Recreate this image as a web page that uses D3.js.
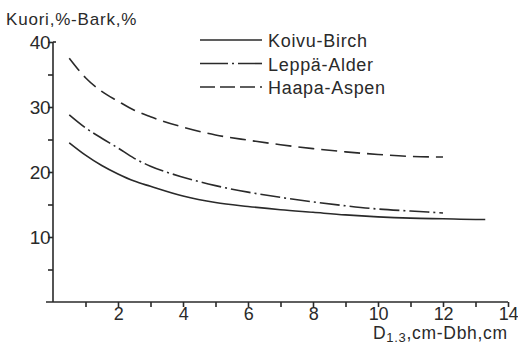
<!DOCTYPE html>
<head>
<meta charset="utf-8">
<script src="https://d3js.org/d3.v7.min.js"></script>
</head>
<style>
body { margin: 0; background: #fff; }
svg text { font-family: "Liberation Sans", Arial, sans-serif; fill: #2a2a2a; }
.axis path, .axis line { stroke: #2a2a2a; stroke-width: 1.6px; }
.curve { fill: none; stroke: #2a2a2a; stroke-width: 1.6px; }
</style>
<body>
<script>
// diameter (cm) and bark share (%)
var birchX = [0.5, 1, 1.5, 2, 2.5, 3, 4, 5, 6, 7, 8, 9, 10, 11, 12, 13, 13.3];
var birchY = [24.5, 22.6, 21.0, 19.7, 18.6, 17.8, 16.3, 15.3, 14.7, 14.2, 13.8, 13.4, 13.1, 12.9, 12.8, 12.7, 12.7];
var alderX = [0.5, 1, 1.5, 2, 2.5, 3, 4, 5, 6, 7, 8, 9, 10, 11, 12];
var alderY = [28.8, 26.8, 25.2, 23.7, 22.1, 20.9, 19.2, 17.9, 16.9, 16.1, 15.4, 14.8, 14.3, 14.0, 13.7];
var aspenX = [0.5, 1, 1.5, 2, 2.5, 3, 4, 5, 6, 7, 8, 9, 10, 11, 12];
var aspenY = [37.5, 34.5, 32.4, 30.9, 29.5, 28.5, 26.9, 25.7, 24.9, 24.2, 23.6, 23.1, 22.7, 22.4, 22.3];
var seriesNames = ["Koivu-Birch", "Leppä-Alder", "Haapa-Aspen"];
var xTicks = [1, 2, 3, 4, 5, 6, 7, 8, 9, 10, 11, 12, 13, 14];
var yTicks = [5, 10, 15, 20, 25, 30, 35, 40];

var W = 518, H = 345;
var margin = {top: 42, left: 53},
    width = 455, height = 260;

var x = d3.scaleLinear().domain([0, 14]).range([0, width]);
var y = d3.scaleLinear().domain([0, 40]).range([height, 0]);

var svg = d3.select("body").append("svg")
    .attr("width", W).attr("height", H);
var g = svg.append("g")
    .attr("transform", "translate(" + margin.left + "," + margin.top + ")");

// axes
var yAxis = g.append("g").attr("class", "axis")
    .call(d3.axisLeft(y).tickValues(yTicks).tickSize(5).tickSizeOuter(0)
      .tickFormat(function(d) { return d % 10 === 0 ? d : ""; }));
yAxis.selectAll("text").attr("font-size", 19).attr("x", -3).attr("dy", "0.35em")
  .attr("letter-spacing", -0.5);

var xAxis = g.append("g").attr("class", "axis")
    .attr("transform", "translate(0," + height + ")")
    .call(d3.axisBottom(x).tickValues(xTicks).tickSize(5).tickSizeOuter(0)
      .tickFormat(function(d) { return d % 2 === 0 ? d : ""; }));
xAxis.selectAll("text").attr("font-size", 18).attr("y", 5).attr("letter-spacing", -0.3);
xAxis.select(".domain").remove();
xAxis.append("line").attr("x1", -7).attr("x2", x(14)).attr("y1", 0).attr("y2", 0);
yAxis.select(".domain").remove();
yAxis.append("line").attr("x1", 0).attr("x2", 0).attr("y1", y(40)).attr("y2", height);
yAxis.append("line").attr("x1", 0).attr("x2", 3).attr("y1", y(40)).attr("y2", y(40));

// curves
var line = d3.line().curve(d3.curveMonotoneX)
    .x(function(d) { return x(d[0]); })
    .y(function(d) { return y(d[1]); });
var dashes = [null, "20,4,2,4", "16,7"];
var data = [d3.zip(birchX, birchY), d3.zip(alderX, alderY), d3.zip(aspenX, aspenY)];
data.forEach(function(s, i) {
  g.append("path").attr("class", "curve")
    .attr("d", line(s))
    .attr("stroke-dasharray", dashes[i]);
});

// legend
var legDash = [null, "28,4,2,4", "15,5"];
var legend = svg.append("g");
seriesNames.forEach(function(name, i) {
  var ly = 40 + i * 23.5;
  legend.append("line").attr("class", "curve")
    .attr("x1", 200).attr("x2", 262).attr("y1", ly).attr("y2", ly)
    .attr("stroke-dasharray", legDash[i]);
  legend.append("text").attr("x", 268).attr("y", ly + 7)
    .attr("font-size", 18).attr("letter-spacing", 0.7).text(name);
});

// titles
svg.append("text").attr("x", 6).attr("y", 25).attr("font-size", 17)
  .attr("letter-spacing", 0.8).text("Kuori,%-Bark,%");
var xl = svg.append("text").attr("x", 373).attr("y", 339).attr("font-size", 17.5)
  .attr("letter-spacing", 0.7);
xl.append("tspan").text("D");
xl.append("tspan").attr("font-size", 13).attr("dy", 3).text("1.3");
xl.append("tspan").attr("dy", -3).text(",cm-Dbh,cm");
</script>
</body>
